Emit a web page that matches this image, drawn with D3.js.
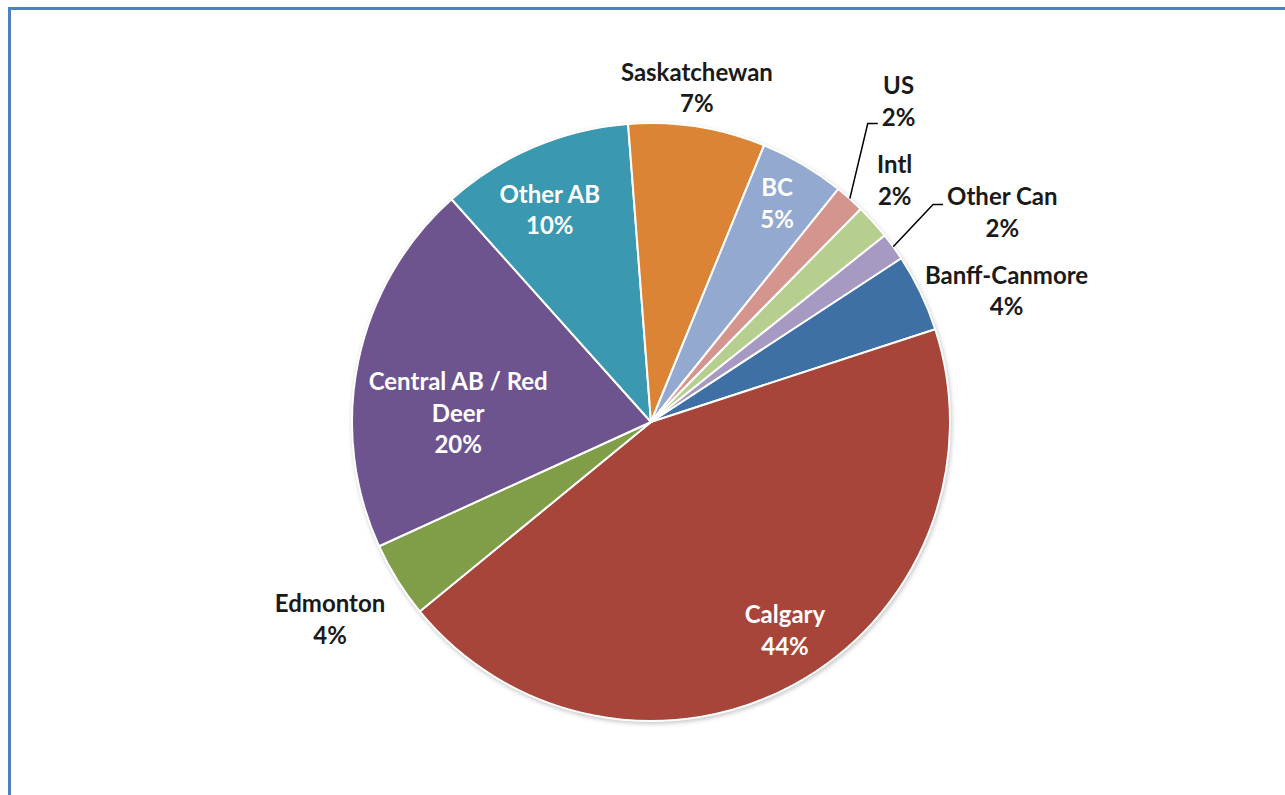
<!DOCTYPE html>
<html>
<head>
<meta charset="utf-8">
<script src="https://cdn.jsdelivr.net/npm/d3@7"></script>
<style>
body { margin: 0; background: #fff; }
text { font-family: Lato, "Open Sans", sans-serif; font-weight: bold; font-size: 24px; }
</style>
</head>
<body>
<div id="chart-area"></div>
<script>
// slices in drawing order (clockwise)
var categories = ["Banff-Canmore", "Calgary", "Edmonton", "Central AB / Red Deer", "Other AB",
                  "Saskatchewan", "BC", "US", "Intl", "Other Can"];
var shares = [4.2, 44.1, 4.1, 20.2, 10.4, 7.4, 4.6, 1.6, 1.9, 1.5];
var colors = ["#3e70a6", "#a8453b", "#7f9e47", "#6e548e", "#3a98b0",
              "#dc8436", "#94a9cf", "#d5958f", "#b6ce8e", "#a699c2"];

// label placement : distance from centre, angle shift (deg) from slice middle
var labelPlace = {
  "Banff-Canmore":         {r: 379, da: 5.4,  inside: false},
  "Calgary":               {r: 248, da: -4,   inside: true},
  "Edmonton":              {r: 377, da: 0.3,  inside: false},
  "Central AB / Red Deer": {r: 193, da: -9.3, inside: true},
  "Other AB":              {r: 235, da: -2.4, inside: true},
  "Saskatchewan":          {r: 337, da: -1.1, inside: false},
  "BC":                    {r: 252, da: -0.5, inside: true},
  "US":                    {r: 405, da: -4,   inside: false, leader: 22},
  "Intl":                  {r: 343, da: -2.7, inside: false},
  "Other Can":             {r: 409, da: 5.1,  inside: false, leader: -8}
};

var W = 1285, H = 795;
var cx = 651, cy = 422, radius = 299;
var lineH = 31.5, wrapWidth = 190;

var svg = d3.select("#chart-area").append("svg")
  .attr("width", W)
  .attr("height", H);

// frame (only top and left edges are visible)
svg.append("line")
  .attr("x1", 8).attr("x2", W).attr("y1", 8.5).attr("y2", 8.5)
  .attr("stroke", "#4f81bd").attr("stroke-width", 3);
svg.append("line")
  .attr("x1", 9.5).attr("x2", 9.5).attr("y1", 7).attr("y2", H)
  .attr("stroke", "#4f81bd").attr("stroke-width", 3);

var defs = svg.append("defs");
defs.append("filter").attr("id", "soft")
  .attr("x", "-10%").attr("y", "-10%").attr("width", "120%").attr("height", "120%")
  .append("feGaussianBlur").attr("stdDeviation", 2);

var g = svg.append("g")
  .attr("transform", "translate(" + cx + "," + cy + ")");

g.append("circle")
  .attr("cx", 1).attr("cy", 2)
  .attr("r", radius + 1)
  .attr("fill", "#c8c8c8")
  .attr("filter", "url(#soft)");

var data = categories.map(function(c, i) { return {name: c, value: shares[i], color: colors[i]}; });

var startDeg = 56.8;
var pie = d3.pie()
  .value(function(d) { return d.value; })
  .sort(null)
  .startAngle(startDeg * Math.PI / 180)
  .endAngle((startDeg + 360) * Math.PI / 180);

var arc = d3.arc().innerRadius(0).outerRadius(radius);

var arcs = pie(data);

g.selectAll("path.slice")
  .data(arcs)
  .enter().append("path")
  .attr("class", "slice")
  .attr("d", arc)
  .attr("fill", function(d) { return d.data.color; })
  .attr("stroke", "#fff")
  .attr("stroke-width", 2)
  .attr("stroke-linejoin", "round");

function polar(r, a) {
  return [r * Math.sin(a), -r * Math.cos(a)];
}

function wrapWords(textSel, words) {
  // greedy wrap using measured widths
  var lines = [], cur = [];
  var probe = textSel.append("tspan");
  words.forEach(function(w) {
    var tryLine = cur.concat([w]).join(" ");
    probe.text(tryLine);
    if (cur.length && probe.node().getComputedTextLength() > wrapWidth) {
      lines.push(cur.join(" "));
      cur = [w];
    } else {
      cur.push(w);
    }
  });
  lines.push(cur.join(" "));
  probe.remove();
  return lines;
}

var labels = g.selectAll("g.label")
  .data(arcs)
  .enter().append("g")
  .attr("class", "label");

labels.each(function(d) {
  var p = labelPlace[d.data.name];
  var mid = (d.startAngle + d.endAngle) / 2;
  var pos = polar(p.r, mid + p.da * Math.PI / 180);
  var t = d3.select(this).append("text")
    .attr("text-anchor", "middle")
    .attr("fill", p.inside ? "#fff" : "#1a1a1a");
  var lines = wrapWords(t, d.data.name.split(" "));
  lines.push(Math.round(d.data.value) + "%");
  var top = pos[1] - (lines.length - 1) * lineH / 2;
  lines.forEach(function(l, i) {
    t.append("tspan")
      .attr("x", pos[0])
      .attr("y", top + i * lineH)
      .attr("dy", "0.35em")
      .text(l);
  });

  if (p.leader !== undefined) {
    var bb = t.node().getBBox();
    var ex = bb.x - 4, ey = pos[1] + p.leader;
    var s = polar(radius, mid);
    d3.select(this).append("polyline")
      .attr("points", [s, [ex - 10, ey], [ex, ey]].map(function(q) { return q.join(","); }).join(" "))
      .attr("fill", "none")
      .attr("stroke", "#000")
      .attr("stroke-width", 1.5);
  }
});
</script>
</body>
</html>
